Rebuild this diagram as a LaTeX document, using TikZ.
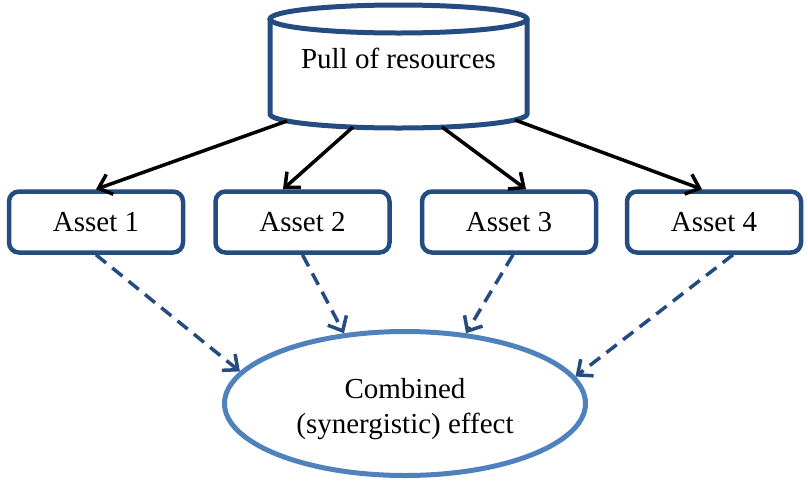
\documentclass[tikz,border=0pt]{standalone}
\usepackage{fontspec}
\setmainfont{Liberation Serif}
\usetikzlibrary{arrows.meta,shapes.geometric,calc}

\definecolor{boxblue}{RGB}{37,76,128}
\definecolor{ovalblue}{RGB}{79,129,189}

\begin{document}
\begin{tikzpicture}[x=1pt,y=1pt,
  txt/.style={font=\fontsize{29}{35}\selectfont},
  assetbox/.style={txt,draw=boxblue,line width=4.5pt,rounded corners=10pt,
    minimum width=174pt,minimum height=61pt,inner sep=0pt,fill=white},
  effect/.style={ellipse,draw=ovalblue,line width=5pt,fill=white,
    minimum width=361pt,minimum height=144pt,inner sep=0pt},
  feed/.style={black,line width=3.5pt,-{Straight Barb[length=12pt,width=21pt]}},
  contrib/.style={boxblue,line width=3.5pt,dash pattern=on 13pt off 8pt,
    -{Straight Barb[length=12pt,width=21pt]}}
]
\useasboundingbox (0,0) rectangle (808,-480);

% resource pool drawn as a cylinder
\filldraw[draw=boxblue,fill=white,line width=5pt]
  (270,-19) -- (270,-114) arc[start angle=180,end angle=360,x radius=128.5,y radius=14]
  -- (527,-19);
\draw[draw=boxblue,line width=5pt,fill=white] (398.5,-19) ellipse[x radius=128.5,y radius=14];
\node[txt] (res) at (398.5,-58) {Pull of resources};

% points on the lower rim where the feeds leave the pool
\coordinate (r1) at (287,-121);
\coordinate (r2) at (353,-127);
\coordinate (r3) at (442,-127);
\coordinate (r4) at (515,-120);

% assets
\node[assetbox] (a1) at (96,-222) {Asset 1};
\node[assetbox] (a2) at (302.5,-222) {Asset 2};
\node[assetbox] (a3) at (509,-222) {Asset 3};
\node[assetbox] (a4) at (714,-222) {Asset 4};

% combined effect
\node[effect] (eff) at (405,-403.5) {};
\node[txt,align=center] (efftext) at (405,-409) {Combined\\(synergistic) effect};

% pool feeds each asset
\draw[feed] (r1) -- (a1.north);
\draw[feed] (r2) -- ($(a2.north)+(-19.5,0)$);
\draw[feed] (r3) -- ($(a3.north)+(17,0)$);
\draw[feed] (r4) -- ($(a4.north)+(-12,0)$);

% assets contribute to the combined effect
\draw[contrib] (a1.south) -- (eff.169.8);
\draw[contrib] (a2.south) -- (eff.131.3);
\draw[contrib] ($(a3.south)+(4,0)$) -- (eff.49.2);
\draw[contrib] ($(a4.south)+(19,0)$) -- (eff.9.9);
\end{tikzpicture}
\end{document}
